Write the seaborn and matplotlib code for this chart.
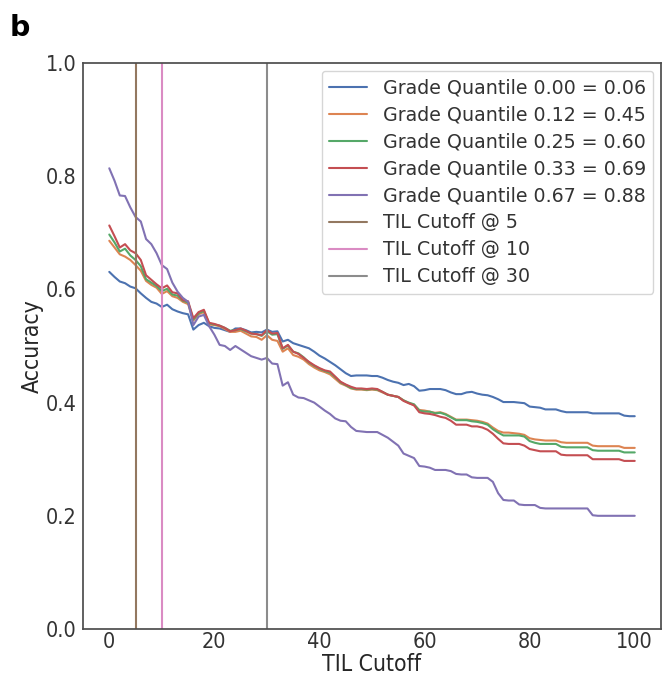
import numpy as np
import pandas as pd
import matplotlib
matplotlib.use("Agg")
import matplotlib.pyplot as plt
import seaborn as sns

til_cutoff = list(range(0, 101))

q000 = [.631, .622, .614, .611, .605, .602, .593, .585, .578, .575,
        .569, .573, .565, .561, .558, .556, .529, .537, .541, .535,
        .532, .531, .528, .525, .531, .531, .528, .524, .525, .524,
        .529, .525, .526, .508, .511, .505, .502, .499, .496, .490,
        .483, .478, .472, .466, .459, .452, .447, .448, .448, .448,
        .447, .447, .444, .440, .437, .435, .431, .433, .429, .421,
        .422, .424, .424, .424, .422, .418, .415, .415, .418, .419,
        .416, .414, .413, .410, .406, .401, .401, .401, .400, .399,
        .393, .392, .391, .388, .388, .388, .385, .383, .383, .383,
        .383, .383, .381, .381, .381, .381, .381, .381, .377, .376,
        .376]

q012 = [.686, .674, .662, .658, .652, .643, .633, .615, .608, .603,
        .592, .597, .588, .585, .578, .574, .545, .556, .560, .538,
        .537, .535, .530, .525, .525, .527, .522, .517, .516, .511,
        .519, .511, .509, .490, .496, .484, .481, .476, .468, .462,
        .457, .454, .450, .442, .434, .430, .425, .423, .423, .422,
        .423, .422, .418, .414, .412, .410, .404, .399, .396, .387,
        .386, .384, .382, .383, .380, .375, .370, .370, .370, .369,
        .368, .366, .363, .356, .350, .347, .347, .346, .345, .343,
        .337, .335, .334, .333, .333, .333, .330, .329, .329, .329,
        .329, .329, .324, .323, .323, .323, .323, .323, .320, .320,
        .320]

q025 = [.697, .683, .667, .672, .660, .652, .641, .618, .612, .606,
        .597, .601, .591, .589, .580, .577, .547, .558, .562, .540,
        .538, .536, .532, .527, .528, .530, .526, .522, .521, .518,
        .526, .520, .521, .495, .501, .490, .487, .480, .471, .465,
        .460, .456, .453, .445, .436, .431, .426, .424, .424, .423,
        .424, .423, .419, .414, .412, .410, .404, .400, .397, .386,
        .384, .384, .381, .382, .379, .374, .369, .369, .369, .367,
        .366, .364, .361, .353, .347, .342, .342, .342, .342, .340,
        .332, .329, .327, .327, .327, .327, .322, .321, .321, .321,
        .321, .321, .316, .315, .315, .315, .315, .315, .312, .312,
        .312]

q033 = [.713, .694, .674, .680, .669, .664, .652, .625, .617, .609,
        .602, .607, .595, .593, .581, .579, .549, .560, .564, .541,
        .539, .536, .532, .526, .528, .531, .527, .522, .521, .519,
        .528, .522, .523, .496, .502, .490, .486, .479, .472, .466,
        .461, .457, .455, .446, .437, .432, .428, .425, .425, .424,
        .425, .424, .419, .414, .412, .410, .403, .399, .395, .383,
        .381, .380, .378, .375, .373, .368, .361, .361, .361, .358,
        .358, .356, .352, .345, .336, .328, .327, .327, .327, .324,
        .318, .316, .314, .314, .314, .314, .308, .307, .307, .307,
        .307, .307, .300, .300, .300, .300, .300, .300, .297, .297,
        .297]

q067 = [.814, .792, .766, .765, .745, .728, .720, .689, .680, .664,
        .643, .636, .612, .596, .585, .578, .537, .552, .555, .535,
        .520, .502, .500, .493, .500, .494, .488, .482, .479, .476,
        .479, .469, .468, .430, .436, .414, .409, .408, .404, .400,
        .393, .386, .380, .372, .368, .367, .357, .350, .349, .348,
        .348, .348, .343, .338, .331, .324, .310, .306, .302, .288,
        .287, .285, .281, .281, .281, .279, .274, .273, .273, .268,
        .267, .267, .267, .260, .240, .228, .227, .227, .220, .219,
        .219, .219, .214, .213, .213, .213, .213, .213, .213, .213,
        .213, .213, .201, .200, .200, .200, .200, .200, .200, .200,
        .200]

series_labels = ["Grade Quantile 0.00 = 0.06",
                 "Grade Quantile 0.12 = 0.45",
                 "Grade Quantile 0.25 = 0.60",
                 "Grade Quantile 0.33 = 0.69",
                 "Grade Quantile 0.67 = 0.88"]
cutoffs = [5, 10, 30]
cutoff_labels = ["TIL Cutoff @ 5", "TIL Cutoff @ 10", "TIL Cutoff @ 30"]

sns.set_theme(style="white")
plt.rcParams['font.family'] = ['DejaVu Sans']

pal = sns.color_palette("deep")

frames = []
for lab, vals in zip(series_labels, [q000, q012, q025, q033, q067]):
    frames.append(pd.DataFrame({"TIL Cutoff": til_cutoff, "Accuracy": vals, "series": lab}))
df = pd.concat(frames, ignore_index=True)

fig = plt.figure(figsize=(6.63, 6.77), dpi=100)
ax = fig.add_axes([0.1252, 0.0709, 0.8718, 0.836])

sns.lineplot(data=df, x="TIL Cutoff", y="Accuracy", hue="series",
             palette=pal[:5], linewidth=1.5, ax=ax)
for c, lab, col in zip(cutoffs, cutoff_labels, [pal[5], pal[6], pal[7]]):
    ax.axvline(c, color=col, linewidth=1.5, label=lab)

ax.set_ylim(0, 1.0)
ax.set_xlim(-5, 105)
ax.set_yticks([0.0, 0.2, 0.4, 0.6, 0.8, 1.0])
ax.set_xticks([0, 20, 40, 60, 80, 100])
ax.tick_params(axis="both", length=0)
ax.tick_params(axis="x", pad=2.5)
ax.tick_params(axis="y", pad=4.5)
for t in ax.get_xticklabels() + ax.get_yticklabels():
    t.set_fontsize(15.5)
    t.set_fontstretch("condensed")
    t.set_color("0.2")
ax.set_xlabel("TIL Cutoff", fontsize=16.5, fontstretch="condensed", color="0.15", labelpad=0.5)
ax.set_ylabel("Accuracy", fontsize=16.5, fontstretch="condensed", color="0.15", labelpad=1.5)
for s in ax.spines.values():
    s.set_color("0.3")
    s.set_linewidth(1.25)

handles, labels = ax.get_legend_handles_labels()
leg = ax.legend(handles, labels, loc="upper right", fontsize=13.7, frameon=True,
                labelspacing=0.42, borderaxespad=0.4)
for t in leg.get_texts():
    t.set_color("0.2")

fig.text(0.014, 0.947, "b", fontsize=20.5, fontweight="bold", color="black")

fig.savefig("out.png", dpi=100)
